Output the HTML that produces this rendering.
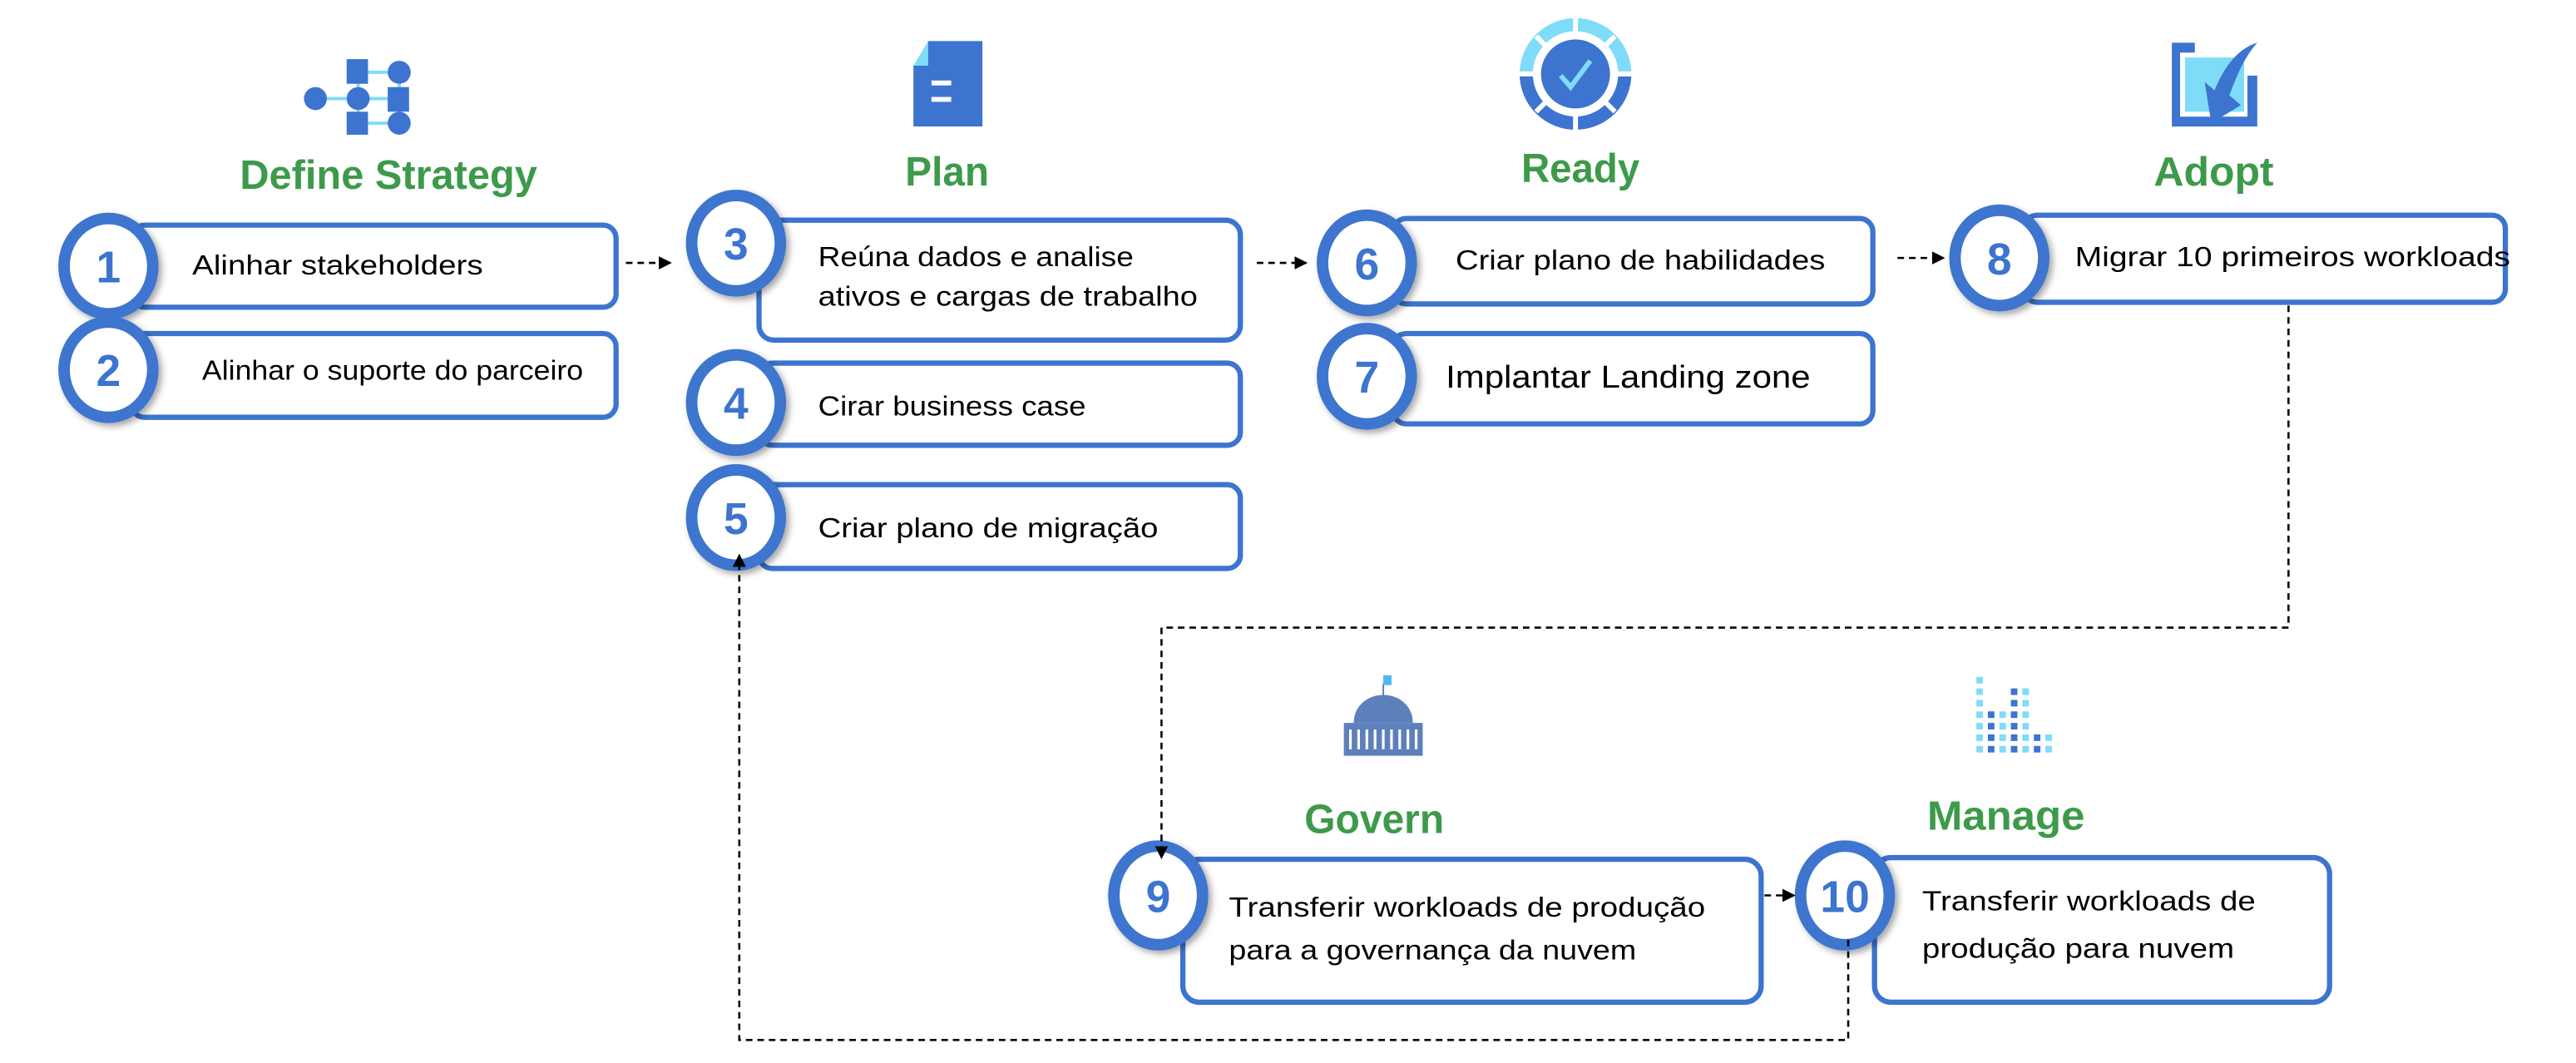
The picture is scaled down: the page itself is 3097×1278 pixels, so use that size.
<!DOCTYPE html>
<html><head><meta charset="utf-8"><style>
html,body{margin:0;padding:0;background:#fff;}
svg{display:block;}
text{font-family:"Liberation Sans",sans-serif;}
.t{font-size:17px;fill:#000;}
.h{font-size:25px;font-weight:bold;fill:#3d9a4a;}
.n{font-size:27px;font-weight:bold;fill:#3c74cf;text-anchor:middle;}
.box{fill:#fff;stroke:#3c74cf;stroke-width:3.2;}
.ring{fill:#fff;stroke:#3c74cf;stroke-width:7;}
.d{fill:none;stroke:#000;stroke-width:1.3;stroke-dasharray:4,3;}
</style></head><body>
<svg width="3097" height="1278" viewBox="0 0 1568 647" preserveAspectRatio="none" xmlns="http://www.w3.org/2000/svg">
<defs>
<filter id="sh" x="-30%" y="-30%" width="160%" height="160%"><feDropShadow dx="2" dy="2" stdDeviation="2" flood-color="#000" flood-opacity="0.35"/></filter>
<marker id="ar" markerWidth="8" markerHeight="8" refX="7" refY="4" orient="auto" markerUnits="userSpaceOnUse"><path d="M0,0 L8,4 L0,8 z" fill="#000"/></marker>
</defs>

<!-- icons -->
<g stroke="#7fdcf8" stroke-width="2"><line x1="199" y1="60" x2="211" y2="60"/><line x1="224" y1="60" x2="236" y2="60"/><line x1="224" y1="44" x2="236" y2="44"/><line x1="224" y1="75" x2="236" y2="75"/><line x1="218" y1="44" x2="218" y2="75"/><line x1="243" y1="44" x2="243" y2="75"/></g>
<g fill="#3c74cf">
<circle cx="192" cy="60" r="7"/><circle cx="218" cy="60" r="7"/><circle cx="243" cy="44" r="7"/><circle cx="243" cy="75" r="7"/>
<rect x="211" y="36" width="13" height="15"/><rect x="236" y="53" width="13" height="15"/><rect x="211" y="68" width="13" height="14"/>
</g>

<rect x="556" y="25" width="42" height="52" fill="#3c74cf"/>
<path d="M556,25 L565,25 L565,40 L556,40 z" fill="#7fdcf8"/>
<path d="M556,25 L565,25 L556,40 z" fill="#fff"/>
<rect x="567" y="49" width="12" height="3" fill="#fff"/><rect x="567" y="59" width="12" height="3" fill="#fff"/>

<circle cx="959" cy="45" r="30" fill="none" stroke="#7fdcf8" stroke-width="8"/>
<path d="M929,45 A30,30 0 0 0 989,45" fill="none" stroke="#3c74cf" stroke-width="8"/>
<g stroke="#fff" stroke-width="3"><line x1="959" y1="10" x2="959" y2="20"/><line x1="959" y1="70" x2="959" y2="80"/><line x1="924" y1="45" x2="934" y2="45"/><line x1="984" y1="45" x2="994" y2="45"/><line x1="935" y1="22" x2="941" y2="28"/><line x1="983" y1="22" x2="977" y2="28"/><line x1="935" y1="68" x2="941" y2="62"/><line x1="983" y1="68" x2="977" y2="62"/></g>
<circle cx="959" cy="45" r="21" fill="#3c74cf"/>
<path d="M950,46 L956,53 L968,37" fill="none" stroke="#7fdcf8" stroke-width="3"/>

<path d="M1322,26 L1336,26 L1336,32 L1327,32 L1327,71 L1368,71 L1368,46 L1374,46 L1374,77 L1322,77 z" fill="#3c74cf"/>
<rect x="1330" y="35" width="36" height="33" fill="#7fdcf8"/>
<path d="M1374,26 C1360,30 1352,45 1348,55 L1342,50 L1346,75 L1364,64 L1357,58 C1362,45 1366,35 1374,26 z" fill="#3c74cf"/>

<line x1="842" y1="416" x2="842" y2="424" stroke="#5e80ba" stroke-width="1"/>
<rect x="842" y="411" width="5" height="6" fill="#4fb8f0"/>
<path d="M824,440 C824,430 832,423 842,423 C852,423 860,430 860,440 z" fill="#5e80ba"/>
<rect x="818" y="440" width="48" height="20" fill="#5e80ba"/>
<g stroke="#fff" stroke-width="1.6"><line x1="822" y1="444" x2="822" y2="456"/><line x1="827" y1="444" x2="827" y2="456"/><line x1="832" y1="444" x2="832" y2="456"/><line x1="837" y1="444" x2="837" y2="456"/><line x1="842" y1="444" x2="842" y2="456"/><line x1="847" y1="444" x2="847" y2="456"/><line x1="852" y1="444" x2="852" y2="456"/><line x1="857" y1="444" x2="857" y2="456"/><line x1="862" y1="444" x2="862" y2="456"/></g>

<g>
<g fill="#7fdcf8">
<rect x="1203" y="412" width="4" height="4"/>
<rect x="1203" y="419" width="4" height="4"/><rect x="1231" y="419" width="4" height="4"/>
<rect x="1203" y="426" width="4" height="4"/><rect x="1231" y="426" width="4" height="4"/>
<rect x="1203" y="433" width="4" height="4"/><rect x="1217" y="433" width="4" height="4"/><rect x="1231" y="433" width="4" height="4"/>
<rect x="1203" y="440" width="4" height="4"/><rect x="1217" y="440" width="4" height="4"/><rect x="1231" y="440" width="4" height="4"/>
<rect x="1203" y="447" width="4" height="4"/><rect x="1217" y="447" width="4" height="4"/><rect x="1231" y="447" width="4" height="4"/><rect x="1245" y="447" width="4" height="4"/>
<rect x="1203" y="454" width="4" height="4"/><rect x="1217" y="454" width="4" height="4"/><rect x="1231" y="454" width="4" height="4"/><rect x="1245" y="454" width="4" height="4"/>
</g>
<g fill="#3c74cf">
<rect x="1224" y="419" width="4" height="4"/><rect x="1224" y="426" width="4" height="4"/>
<rect x="1210" y="433" width="4" height="4"/><rect x="1224" y="433" width="4" height="4"/>
<rect x="1210" y="440" width="4" height="4"/><rect x="1224" y="440" width="4" height="4"/>
<rect x="1210" y="447" width="4" height="4"/><rect x="1224" y="447" width="4" height="4"/><rect x="1238" y="447" width="4" height="4"/>
<rect x="1210" y="454" width="4" height="4"/><rect x="1224" y="454" width="4" height="4"/><rect x="1238" y="454" width="4" height="4"/>
</g>
</g>

<!-- titles -->
<text class="h" x="146" y="115" textLength="181" lengthAdjust="spacingAndGlyphs">Define Strategy</text>
<text class="h" x="551" y="113" textLength="51" lengthAdjust="spacingAndGlyphs">Plan</text>
<text class="h" x="926" y="111" textLength="72" lengthAdjust="spacingAndGlyphs">Ready</text>
<text class="h" x="1311" y="113" textLength="73" lengthAdjust="spacingAndGlyphs">Adopt</text>
<text class="h" x="794" y="507" textLength="85" lengthAdjust="spacingAndGlyphs">Govern</text>
<text class="h" x="1173" y="505" textLength="96" lengthAdjust="spacingAndGlyphs">Manage</text>

<!-- boxes -->
<rect class="box" x="80" y="137" width="295" height="50" rx="8"/>
<rect class="box" x="80" y="203" width="295" height="51" rx="8"/>
<rect class="box" x="462" y="134" width="293" height="73" rx="9"/>
<rect class="box" x="462" y="221" width="293" height="50" rx="8"/>
<rect class="box" x="462" y="295" width="293" height="51" rx="8"/>
<rect class="box" x="848" y="133" width="292" height="52" rx="8"/>
<rect class="box" x="848" y="203" width="292" height="55" rx="8"/>
<rect class="box" x="1232" y="131" width="293" height="53" rx="8"/>
<rect class="box" x="720" y="523" width="352" height="87" rx="10"/>
<rect class="box" x="1141" y="522" width="277" height="88" rx="10"/>

<!-- circles -->
<g filter="url(#sh)">
<ellipse class="ring" cx="66" cy="162" rx="27" ry="29"/>
<ellipse class="ring" cx="66" cy="225" rx="27" ry="29"/>
<ellipse class="ring" cx="448" cy="148" rx="27" ry="29"/>
<ellipse class="ring" cx="448" cy="245" rx="27" ry="29"/>
<ellipse class="ring" cx="448" cy="315" rx="27" ry="29"/>
<ellipse class="ring" cx="832" cy="160" rx="27" ry="29"/>
<ellipse class="ring" cx="832" cy="229" rx="27" ry="29"/>
<ellipse class="ring" cx="1217" cy="157" rx="27" ry="29"/>
<ellipse class="ring" cx="705" cy="545" rx="27" ry="30"/>
<ellipse class="ring" cx="1123" cy="545" rx="27" ry="30"/>
</g>
<text class="n" x="66" y="172">1</text>
<text class="n" x="66" y="235">2</text>
<text class="n" x="448" y="158">3</text>
<text class="n" x="448" y="255">4</text>
<text class="n" x="448" y="325">5</text>
<text class="n" x="832" y="170">6</text>
<text class="n" x="832" y="239">7</text>
<text class="n" x="1217" y="167">8</text>
<text class="n" x="705" y="555">9</text>
<text class="n" x="1123" y="555">10</text>

<!-- connectors (on top) -->
<line class="d" x1="381" y1="160" x2="408" y2="160" marker-end="url(#ar)"/>
<line class="d" x1="765" y1="160" x2="795" y2="160" marker-end="url(#ar)"/>
<line class="d" x1="1155" y1="157" x2="1183" y2="157" marker-end="url(#ar)"/>
<polyline class="d" points="1393,186 1393,382 707,382 707,522" marker-end="url(#ar)"/>
<line class="d" x1="1074" y1="545" x2="1092" y2="545" marker-end="url(#ar)"/>
<polyline class="d" points="1125,572 1125,633 450,633 450,338" marker-end="url(#ar)"/>

<!-- texts -->
<text class="t" x="117" y="167" textLength="177" lengthAdjust="spacingAndGlyphs">Alinhar stakeholders</text>
<text class="t" x="123" y="231" textLength="232" lengthAdjust="spacingAndGlyphs">Alinhar o suporte do parceiro</text>
<text class="t" x="498" y="162" textLength="192" lengthAdjust="spacingAndGlyphs">Reúna dados e analise</text>
<text class="t" x="498" y="186" textLength="231" lengthAdjust="spacingAndGlyphs">ativos e cargas de trabalho</text>
<text class="t" x="498" y="253" textLength="163" lengthAdjust="spacingAndGlyphs">Cirar business case</text>
<text class="t" x="498" y="327" textLength="207" lengthAdjust="spacingAndGlyphs">Criar plano de migração</text>
<text class="t" x="886" y="164" textLength="225" lengthAdjust="spacingAndGlyphs">Criar plano de habilidades</text>
<text class="t" x="880" y="236" style="font-size:19px" textLength="222" lengthAdjust="spacingAndGlyphs">Implantar Landing zone</text>
<text class="t" x="1263" y="162" textLength="265" lengthAdjust="spacingAndGlyphs">Migrar 10 primeiros workloads</text>
<text class="t" x="748" y="558" textLength="290" lengthAdjust="spacingAndGlyphs">Transferir workloads de produção</text>
<text class="t" x="748" y="584" textLength="248" lengthAdjust="spacingAndGlyphs">para a governança da nuvem</text>
<text class="t" x="1170" y="554" textLength="203" lengthAdjust="spacingAndGlyphs">Transferir workloads de</text>
<text class="t" x="1170" y="583" textLength="190" lengthAdjust="spacingAndGlyphs">produção para nuvem</text>
</svg>
</body></html>
